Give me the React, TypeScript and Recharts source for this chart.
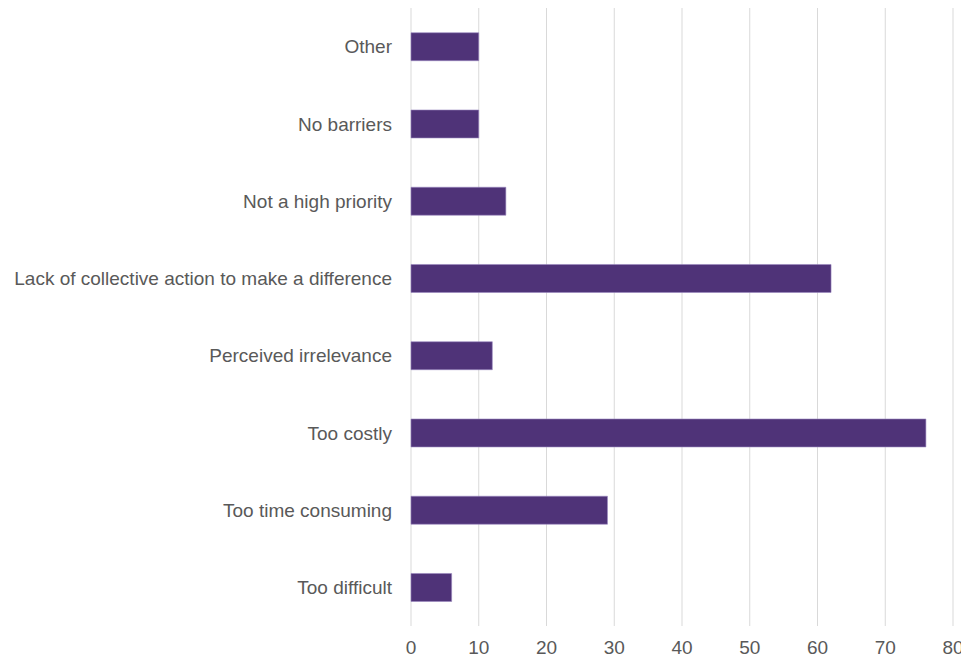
import React from "react"
import { BarChart, Bar, XAxis, YAxis, CartesianGrid } from "recharts"

const categories = [
    "Other",
    "No barriers",
    "Not a high priority",
    "Lack of collective action to make a difference",
    "Perceived irrelevance",
    "Too costly",
    "Too time consuming",
    "Too difficult",
]

const values = [10, 10, 14, 62, 12, 76, 29, 6]

const xTicks = [0, 10, 20, 30, 40, 50, 60, 70, 80]

const data = categories.map((name, i) => ({ name, value: values[i] }))

const TEXT = "#595959"
const FONT = "'Liberation Sans', Arial, sans-serif"

export default function App() {
    return (
        <div style={{ position: "absolute", left: 0, top: 0, background: "#fff" }}>
            <BarChart
                width={961}
                height={660}
                data={data}
                layout="vertical"
                margin={{ top: 8, right: 8, left: 0, bottom: 0 }}
                barCategoryGap="32%"
            >
                <CartesianGrid stroke="#d9d9d9" horizontal={false} vertical={true} />
                <XAxis
                    type="number"
                    domain={[0, 80]}
                    ticks={xTicks}
                    axisLine={false}
                    tickLine={false}
                    tickMargin={9}
                    height={34}
                    tick={{ fill: TEXT, fontSize: 19, fontFamily: FONT }}
                    interval={0}
                />
                <YAxis
                    type="category"
                    dataKey="name"
                    width={411}
                    axisLine={false}
                    tickLine={false}
                    tickMargin={13}
                    interval={0}
                    tick={{ fill: TEXT, fontSize: 19, fontFamily: FONT }}
                />
                <Bar
                    dataKey="value"
                    fill="#4F3378"
                    stroke="#9b88c0"
                    strokeWidth={0.6}
                    isAnimationActive={false}
                />
            </BarChart>
        </div>
    )
}
